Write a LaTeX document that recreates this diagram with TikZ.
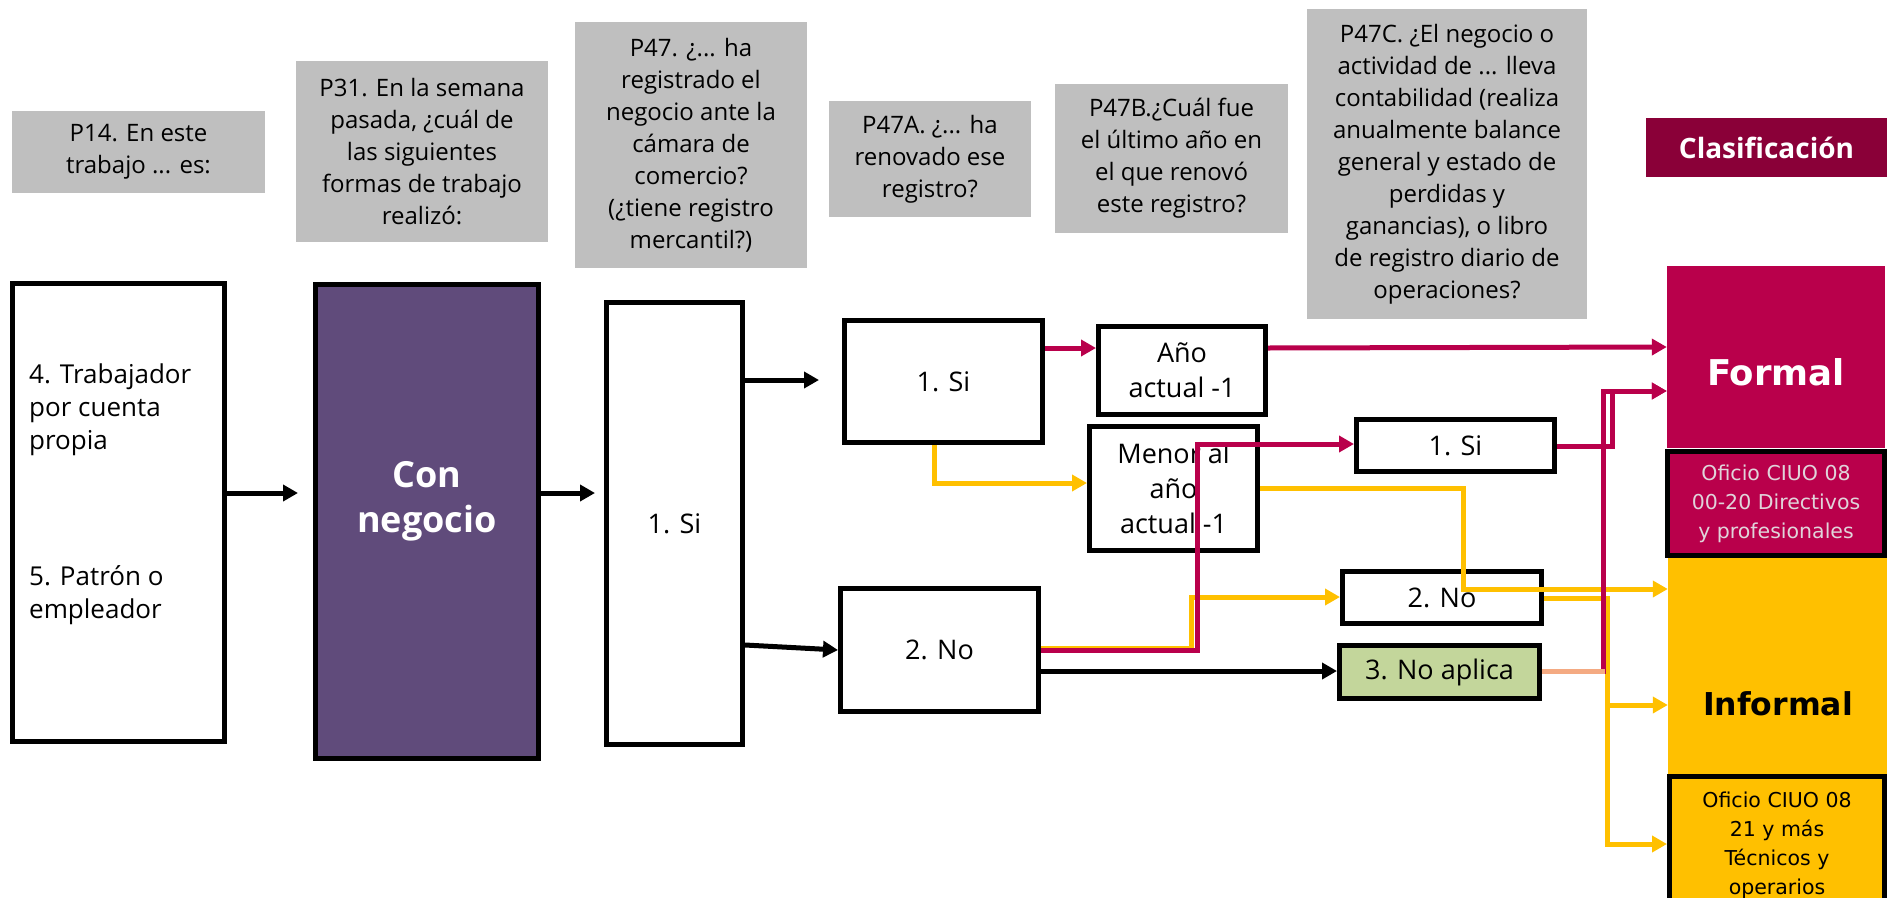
\documentclass[tikz,border=0pt]{standalone}
\usepackage{fontspec}
\setmainfont{Open Sans}
\newfontfamily\verd{DejaVu Sans}
\usetikzlibrary{arrows.meta,calc}
\definecolor{cred}{RGB}{185,0,75}
\definecolor{cdark}{RGB}{138,0,56}
\definecolor{cyel}{RGB}{255,192,0}
\definecolor{cgray}{RGB}{191,191,191}
\definecolor{cpurp}{RGB}{96,75,123}
\definecolor{cgreen}{RGB}{195,214,155}
\definecolor{cpeach}{RGB}{244,170,130}
\definecolor{clight}{RGB}{224,212,218}
\begin{document}
\begin{tikzpicture}[x=1pt,y=-1pt,
  box/.style={draw=black,line width=5pt,inner sep=0pt,align=center,font=\fontsize{27}{35}\selectfont},
  graybox/.style={fill=cgray,inner sep=0pt,align=center,font=\fontsize{24}{32}\selectfont},
  txt/.style={inner sep=0pt,align=center},
  conn/.style={line width=5pt,-{Triangle[length=15pt,width=16pt]}},
  bconn/.style={conn,draw=black},
  rconn/.style={conn,draw=cred},
  yconn/.style={conn,draw=cyel},
]
\path[use as bounding box] (0,0) rectangle (1887,897);
\clip (0,0) rectangle (1887,897);

% gray question boxes
\node[graybox,minimum width=253pt,minimum height=82pt] (g14) at (138.5,152) {P14. En este\\trabajo ... es:};
\node[graybox,minimum width=252pt,minimum height=181pt] (g31) at (422,151.5) {P31. En la semana\\pasada, ¿cuál de\\las siguientes\\formas de trabajo\\realizó:};
\node[graybox,minimum width=232pt,minimum height=246pt] (g47) at (691,145) {P47. ¿... ha\\registrado el\\negocio ante la\\cámara de\\comercio?\\(¿tiene registro\\mercantil?)};
\node[graybox,minimum width=202pt,minimum height=116pt] (g47a) at (930,159) {P47A. ¿... ha\\renovado ese\\registro?};
\node[graybox,minimum width=233pt,minimum height=149pt] (g47b) at (1171.5,158.5) {P47B.¿Cuál fue\\el último año en\\el que renovó\\este registro?};
\node[graybox,minimum width=280pt,minimum height=310pt] (g47c) at (1447,164) {P47C. ¿El negocio o\\actividad de ... lleva\\contabilidad (realiza\\anualmente balance\\general y estado de\\perdidas y\\ganancias), o libro\\de registro diario de\\operaciones?};
\node[fill=cdark,text=white,inner sep=0pt,minimum width=241pt,minimum height=59pt,font=\fontsize{28}{34}\selectfont\bfseries] (clas) at (1766.5,147.5) {Clasificación};

% left boxes
\node[box,minimum width=212pt,minimum height=458pt] (b14) at (118.5,512.5) {};
\node[txt,anchor=west,align=left,font=\fontsize{26}{33}\selectfont] (b14a) at (29,410) {4. Trabajador\\por cuenta\\propia};
\node[txt,anchor=west,align=left,font=\fontsize{26}{33}\selectfont] (b14b) at (29,595) {5. Patrón o\\empleador};
\node[box,fill=cpurp,minimum width=223pt,minimum height=474pt] (neg) at (427,521.5) {};
\node[txt,text=white,font=\fontsize{36}{45}\selectfont\bfseries] (negt) at (427,501) {Con\\negocio};
\node[box,minimum width=136pt,minimum height=442pt] (si47) at (674.5,523.5) {1. Si};

% P47A answers
\node[box,minimum width=198pt,minimum height=122pt] (siA) at (943.5,381.5) {1. Si};
\node[box,minimum width=198pt,minimum height=123pt] (noA) at (939.5,650) {2. No};

% P47B answers
\node[box,minimum width=167pt,minimum height=88pt] (anio) at (1182,370.5) {Año\\actual -1};
\node[box,minimum width=168pt,minimum height=124pt] (menor) at (1173.5,488.5) {Menor al\\año\\actual -1};

% P47C answers
\node[box,minimum width=198pt,minimum height=52pt] (siC) at (1455.5,445.5) {1. Si};
\node[box,minimum width=199pt,minimum height=52pt] (noC) at (1442,597.5) {2. No};
\node[box,fill=cgreen,minimum width=200pt,minimum height=53pt] (naC) at (1439.5,672) {3. No aplica};

% classification column
\node[fill=cred,inner sep=0pt,minimum width=218pt,minimum height=182pt] (formal) at (1776,357) {};
\node[txt,text=white,font=\verd\fontsize{35.5}{42}\selectfont\bfseries] (formalt) at (1776,372) {Formal};
\node[box,fill=cred,minimum width=217pt,minimum height=104pt,text=clight,font=\verd\fontsize{20.5}{29}\selectfont] (of1) at (1776,503.5) {Oficio CIUO 08\\00-20 Directivos\\y profesionales};
\node[fill=cyel,inner sep=0pt,minimum width=219pt,minimum height=218pt] (informal) at (1777.5,666.5) {};
\node[txt,font=\verd\fontsize{31.5}{40}\selectfont\bfseries] (informalt) at (1778,704) {Informal};
\node[box,fill=cyel,minimum width=215pt,minimum height=130pt] (of2) at (1777,841) {};
\node[txt,font=\verd\fontsize{20.5}{29}\selectfont] (of2t) at (1777,845) {Oficio CIUO 08\\21 y más\\Técnicos y\\operarios};

% black connectors
\draw[bconn,shorten >=15pt] (b14.east |- 0,493) -- (neg.west |- 0,493);
\draw[bconn,shorten >=9pt] (neg.east |- 0,493) -- (si47.west |- 0,493);
\draw[bconn,shorten >=23pt] (si47.east |- 0,380) -- (siA.west |- 0,380);
\draw[bconn] (si47.east |- 0,645) -- (noA.west |- 0,650);
\draw[bconn] (noA.east |- 0,671) -- (naC.west |- 0,671);

% yellow connectors
\draw[yconn] (siA.south -| 934,0) |- (menor.west |- 0,483);
\draw[yconn] (noA.east |- 0,648) -| (1191,597) -- (noC.west |- 0,597);
\draw[yconn] (menor.east |- 0,488) -| (1463,589) -- (informal.west |- 0,589);
\coordinate (ybr) at (1607,705);
\draw[yconn] (noC.east |- 0,598) -| (1607,844) -- (of2.west |- 0,844);
\draw[yconn] (ybr) -- (informal.west |- 0,705);

% red connectors
\draw[rconn] (siA.east |- 0,348) -- (anio.west |- 0,348);
\draw[rconn] (anio.east |- 0,348) -- (formal.west |- 0,347);
\draw[rconn] (noA.east |- 0,650) -| (1197,444) -- (siC.west |- 0,444);
\draw[rconn] (siC.east |- 0,446) -| (1612,391) -- (formal.west |- 0,391);
\draw[rconn] (naC.east |- 0,671) -| (1603,391) -- (formal.west |- 0,391);
\draw[line width=5pt,cpeach] (naC.east |- 0,671) -- (1605,671);
\end{tikzpicture}
\end{document}
